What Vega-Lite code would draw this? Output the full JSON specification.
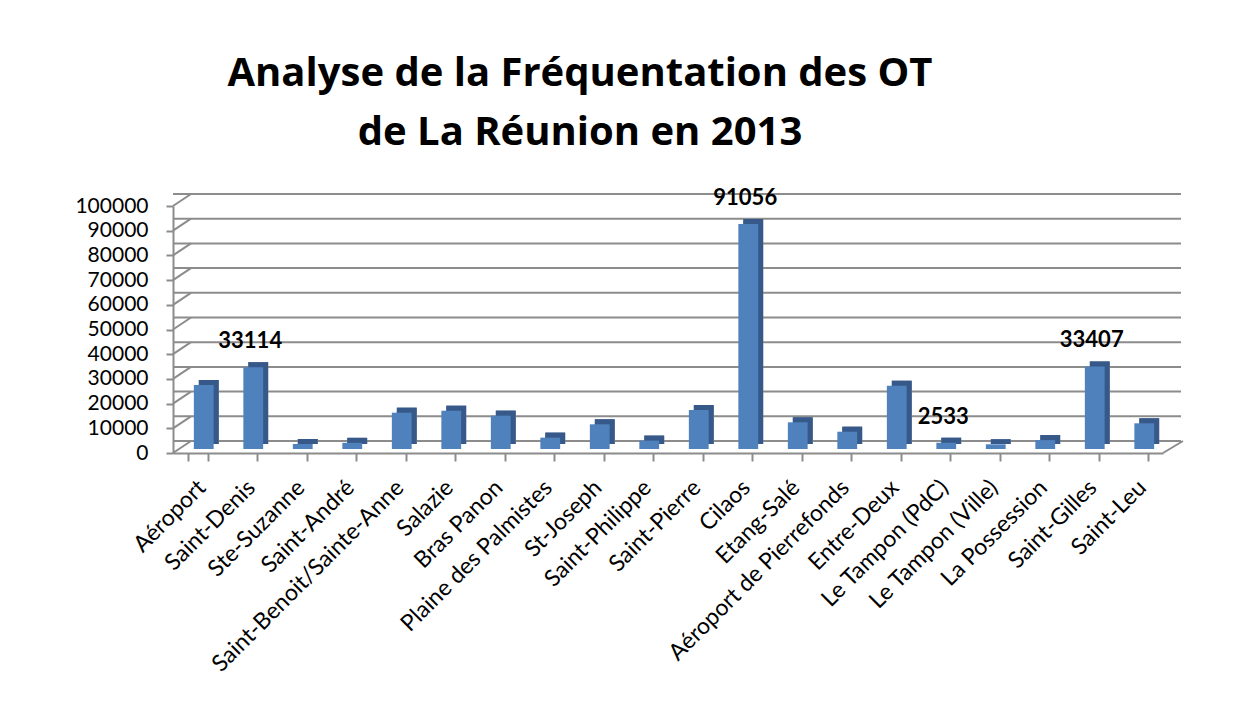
{
  "$schema": "https://vega.github.io/schema/vega-lite/v6.json",
  "width": 990,
  "height": 247,
  "autosize": {"type": "none"},
  "padding": {"left": 173, "top": 206, "right": 79, "bottom": 251},
  "background": "white",
  "config": {
    "view": {"stroke": null},
    "font": "Lato",
    "axis": {"labelOverlap": false, "labelFlush": false}
  },
  "title": {
    "text": ["Analyse de la Fréquentation  des OT", "de La Réunion en 2013"],
    "font": "Open Sans",
    "fontSize": 40,
    "fontWeight": "bold",
    "color": "black",
    "lineHeight": 59,
    "anchor": "middle",
    "dx": -88,
    "offset": 34
  },
  "datasets": {
    "bars": [
      {"site": "Aéroport", "visits": 25900},
      {"site": "Saint-Denis", "visits": 33114},
      {"site": "Ste-Suzanne", "visits": 2000},
      {"site": "Saint-André", "visits": 2500},
      {"site": "Saint-Benoit/Sainte-Anne", "visits": 14700},
      {"site": "Salazie", "visits": 15500},
      {"site": "Bras Panon", "visits": 13500},
      {"site": "Plaine des Palmistes", "visits": 4600},
      {"site": "St-Joseph", "visits": 10000},
      {"site": "Saint-Philippe", "visits": 3400},
      {"site": "Saint-Pierre", "visits": 15800},
      {"site": "Cilaos", "visits": 91056},
      {"site": "Etang-Salé", "visits": 10800},
      {"site": "Aéroport de Pierrefonds", "visits": 7000},
      {"site": "Entre-Deux", "visits": 25600},
      {"site": "Le Tampon (PdC)", "visits": 2533},
      {"site": "Le Tampon (Ville)", "visits": 1900},
      {"site": "La Possession", "visits": 3600},
      {"site": "Saint-Gilles", "visits": 33407},
      {"site": "Saint-Leu", "visits": 10400}
    ],
    "grid": [
      {"visits": 0}, {"visits": 10000}, {"visits": 20000}, {"visits": 30000}, {"visits": 40000}, {"visits": 50000},
      {"visits": 60000}, {"visits": 70000}, {"visits": 80000}, {"visits": 90000}, {"visits": 100000}
    ]
  },
  "encoding": {
    "y": {
      "field": "visits", "type": "quantitative", "title": null,
      "scale": {"domain": [0, 100000], "nice": false},
      "axis": {
        "values": [0, 10000, 20000, 30000, 40000, 50000, 60000, 70000, 80000, 90000, 100000],
        "format": "d", "grid": false,
        "domainColor": "#8c8c8c", "domainWidth": 2,
        "tickColor": "#8c8c8c", "tickWidth": 2, "tickSize": 7,
        "labelFont": "Lato", "labelFontSize": 21, "labelColor": "black", "labelPadding": 18,
        "labelOverlap": false
      }
    }
  },
  "layer": [
    {
      "data": {"name": "bars"},
      "mark": {"type": "bar", "color": "#36598a", "xOffset": 11, "yOffset": -9, "y2Offset": -9},
      "encoding": {
        "x": {
          "field": "site", "type": "nominal", "sort": null, "title": null,
          "scale": {
            "domain": ["Aéroport", "Saint-Denis", "Ste-Suzanne", "Saint-André", "Saint-Benoit/Sainte-Anne", "Salazie", "Bras Panon", "Plaine des Palmistes", "St-Joseph", "Saint-Philippe", "Saint-Pierre", "Cilaos", "Etang-Salé", "Aéroport de Pierrefonds", "Entre-Deux", "Le Tampon (PdC)", "Le Tampon (Ville)", "La Possession", "Saint-Gilles", "Saint-Leu"],
            "paddingInner": 0.6, "paddingOuter": 0.3
          },
          "axis": {
            "domainColor": "#8c8c8c", "domainWidth": 2,
            "ticks": true, "tickBand": "extent", "tickColor": "#8c8c8c", "tickWidth": 2, "tickSize": 8,
            "labelAngle": -45, "labelAlign": "right", "labelBaseline": "top",
            "labelFont": "Lato", "labelFontSize": 23, "labelColor": "black", "labelPadding": 15, "labelOffset": -4,
            "labelOverlap": false, "labelLimit": 400
          }
        }
      }
    },
    {
      "data": {"name": "grid"},
      "mark": {"type": "rule", "color": "#8c8c8c", "strokeWidth": 2, "xOffset": 18, "x2Offset": 18, "yOffset": -12}
    },
    {
      "data": {"name": "grid"},
      "mark": {"type": "rule", "color": "#8c8c8c", "strokeWidth": 2, "xOffset": -14.85, "x2Offset": 3.15, "y2Offset": -12},
      "encoding": {
        "x": {"datum": "Aéroport", "bandPosition": 0, "type": "nominal"},
        "x2": {"datum": "Aéroport", "bandPosition": 0},
        "y2": {"field": "visits"}
      }
    },
    {
      "data": {"name": "grid"},
      "transform": [{"filter": "datum.visits == 0"}],
      "mark": {"type": "rule", "color": "#8c8c8c", "strokeWidth": 2, "xOffset": 14.85, "x2Offset": 34.85, "y2Offset": -12},
      "encoding": {
        "x": {"datum": "Saint-Leu", "bandPosition": 1, "type": "nominal"},
        "x2": {"datum": "Saint-Leu", "bandPosition": 1},
        "y2": {"field": "visits"}
      }
    },
    {
      "data": {"name": "bars"},
      "mark": {"type": "bar", "color": "#36598a", "xOffset": 11, "yOffset": -9, "y2Offset": -9},
      "encoding": {
        "x": {"field": "site", "type": "nominal", "sort": null, "title": null}
      }
    },
    {
      "data": {"name": "bars"},
      "mark": {"type": "bar", "color": "#4f81bd", "xOffset": 6, "yOffset": -4, "y2Offset": -4},
      "encoding": {
        "x": {"field": "site", "type": "nominal", "sort": null, "title": null}
      }
    },
    {
      "data": {"name": "bars"},
      "transform": [{"filter": {"field": "site", "oneOf": ["Saint-Denis", "Cilaos", "Le Tampon (PdC)", "Saint-Gilles"]}}],
      "mark": {"type": "text", "font": "Lato", "fontSize": 22, "fontWeight": "bold", "color": "black", "baseline": "middle", "dy": -30, "xOffset": 3},
      "encoding": {
        "x": {"field": "site", "type": "nominal", "sort": null, "title": null},
        "text": {"field": "visits", "type": "quantitative", "format": "d"}
      }
    }
  ]
}
